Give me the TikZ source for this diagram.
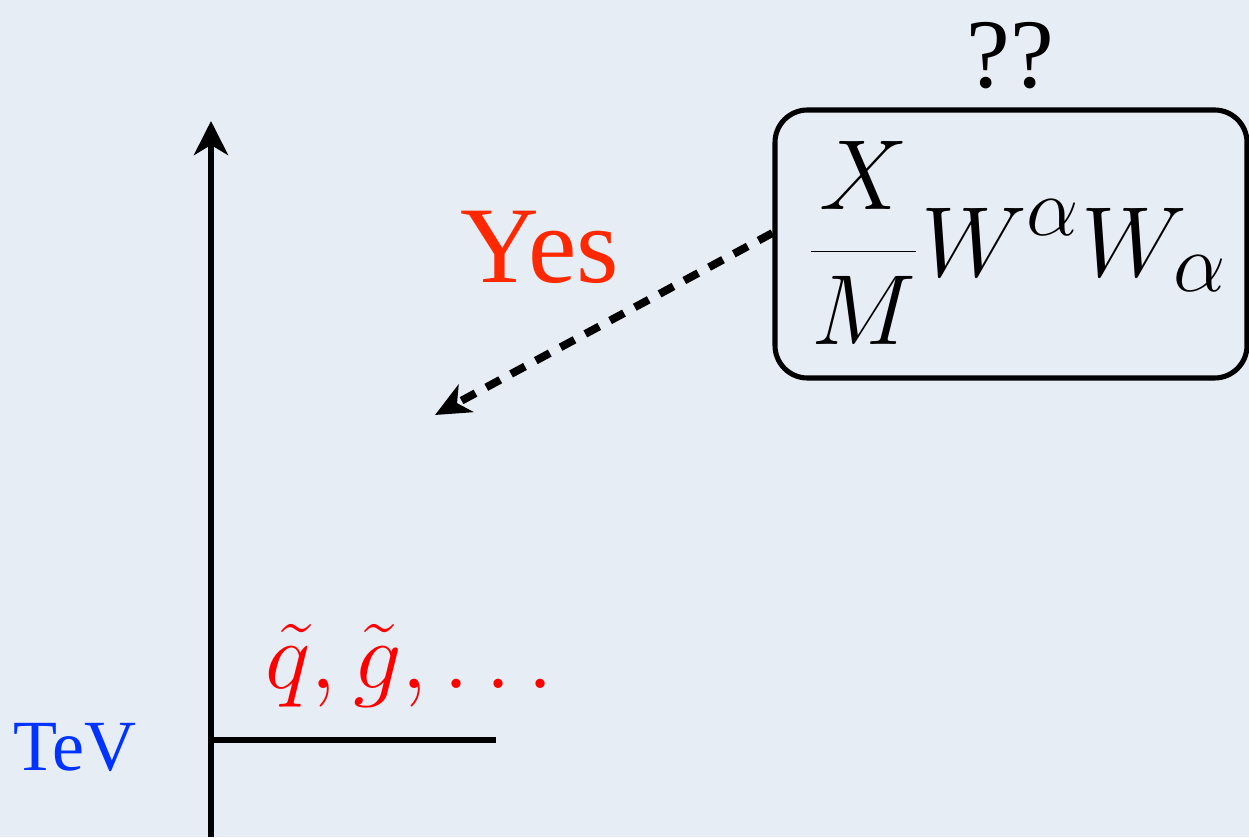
\documentclass[tikz,border=0pt]{standalone}
\usepackage{fontspec}
\setmainfont{Liberation Serif}
\usetikzlibrary{arrows.meta,positioning,calc}
\definecolor{paperbg}{RGB}{231,237,245}
\definecolor{yescol}{RGB}{255,40,0}
\definecolor{sparticlecol}{RGB}{255,0,0}
\definecolor{tevcol}{RGB}{0,51,255}

\begin{document}
\begin{tikzpicture}[
  >=Stealth,
  axis/.style={
    line width=3.8pt,
    -{Stealth[length=0.68cm, width=0.68cm, inset=0.2cm]}
  },
  level/.style={line width=3.8pt},
  termbox/.style={
    draw,
    line width=2.9pt,
    rounded corners=0.65cm,
    minimum width=9.44cm,
    minimum height=5.36cm,
    inner sep=0pt
  },
  termtext/.style={font=\Huge, scale=2.28, inner sep=0pt},
  hint/.style={
    line width=4.5pt,
    dash pattern=on 9pt off 7pt,
    -{Stealth[length=0.7cm, width=0.62cm, inset=0.2cm]}
  },
  yeslbl/.style={font=\fontsize{62}{70}\selectfont, text=yescol},
  qlbl/.style={font=\fontsize{56}{62}\selectfont},
  tevlbl/.style={font=\fontsize{41}{46}\selectfont, text=tevcol},
  splbl/.style={font=\Huge, scale=2.2, text=sparticlecol}
]

% ========== Background ==========
\fill[paperbg] (0,0) rectangle (24.98,16.74);
\useasboundingbox (0,0) rectangle (24.98,16.74);

% ========== Energy axis ==========
\coordinate (axis-base) at (4.22,0);
\coordinate (axis-top) at (4.22,14.32);
\draw[axis] (axis-base) -- (axis-top);

% TeV level
\coordinate (tev-left) at (4.22,1.94);
\coordinate (tev-right) at (9.92,1.94);
\draw[level] (tev-left) -- (tev-right);
\node[tevlbl, anchor=base] (tev) at (1.5,1.34) {TeV};
\node[splbl, anchor=base] (sparticles) at (8.2,2.98) {$\tilde q, \tilde g, \ldots$};

% ========== High-scale operator ==========
\node[termbox] (gauge-box) at (20.22,11.86) {};
\node[termtext] (gauge-term) at (20.34,11.88) {$\displaystyle\frac{X}{M}W^{\alpha}W_{\alpha}$};
\node[qlbl, anchor=base] (question) at (20.2,14.98) {??};

% ========== Mediation ==========
\node[yeslbl, anchor=base] (yes) at (10.8,11.08) {Yes};
\coordinate (yes-tip) at (8.7,8.44);
\draw[hint] ($(gauge-box.west)+(0,0.22)$) -- (yes-tip);

\end{tikzpicture}
\end{document}
